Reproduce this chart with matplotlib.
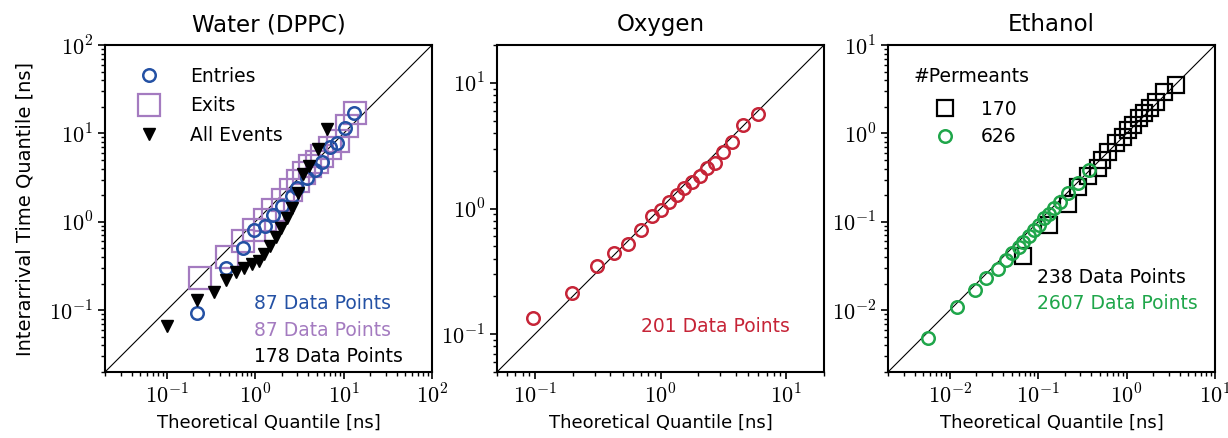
import matplotlib
matplotlib.use("Agg")
import matplotlib.pyplot as plt
from matplotlib.lines import Line2D
from matplotlib.ticker import FuncFormatter, LogLocator
import numpy as np

plt.rcParams['font.family'] = ['DejaVu Sans']
plt.rcParams['mathtext.fontset'] = 'cm'

# ---------------- data ----------------
titles = ["Water (DPPC)", "Oxygen", "Ethanol"]

# Water (DPPC)
water_entries_x = [0.217, 0.466, 0.72, 0.97, 1.29, 1.6, 2.0, 2.58, 2.94, 3.82, 4.74, 5.65, 7.0, 8.4, 10.4, 13.1]
water_entries_y = [0.094, 0.30, 0.50, 0.81, 0.90, 1.2, 1.49, 1.94, 2.41, 3.13, 3.88, 4.8, 7.1, 7.8, 11.5, 17.0]
water_exits_x = [0.237, 0.48, 0.72, 0.97, 1.29, 1.6, 2.04, 2.52, 3.07, 3.56, 4.17, 4.96, 5.65, 7.0, 8.7, 10.8, 13.4]
water_exits_y = [0.23, 0.40, 0.60, 0.80, 1.05, 1.37, 1.77, 2.3, 2.86, 3.56, 4.23, 4.8, 5.5, 6.8, 8.1, 12.0, 17.0]
water_all_x = [0.10, 0.217, 0.34, 0.466, 0.60, 0.75, 0.93, 1.11, 1.26, 1.47, 1.71, 1.95, 2.27, 2.58, 3.02, 3.5, 4.1, 5.2, 6.5]
water_all_y = [0.066, 0.13, 0.16, 0.22, 0.27, 0.30, 0.33, 0.36, 0.43, 0.53, 0.68, 0.85, 1.10, 1.43, 2.11, 3.5, 4.23, 6.65, 11.2]
water_counts = ["87 Data Points", "87 Data Points", "178 Data Points"]

# Oxygen
oxygen_x = [0.096, 0.197, 0.31, 0.43, 0.55, 0.70, 0.85, 1.0, 1.16, 1.36, 1.54, 1.78, 2.05, 2.36, 2.73, 3.15, 3.71, 4.53, 5.96]
oxygen_y = [0.134, 0.214, 0.35, 0.44, 0.52, 0.67, 0.87, 0.98, 1.12, 1.29, 1.46, 1.62, 1.8, 2.1, 2.31, 2.8, 3.36, 4.64, 5.67]
oxygen_count = "201 Data Points"

# Ethanol
eth170_x = [0.0676, 0.133, 0.215, 0.284, 0.368, 0.47, 0.53, 0.61, 0.76, 0.90, 1.03, 1.17, 1.39, 1.59, 1.86, 2.15, 2.68, 3.63]
eth170_y = [0.041, 0.092, 0.161, 0.248, 0.328, 0.41, 0.50, 0.62, 0.77, 0.92, 1.09, 1.24, 1.48, 1.68, 1.92, 2.28, 2.96, 3.52]
eth626_x = [0.0057, 0.0122, 0.0194, 0.026, 0.0347, 0.043, 0.051, 0.060, 0.068, 0.078, 0.090, 0.103, 0.115, 0.133, 0.151, 0.176, 0.215, 0.279, 0.378]
eth626_y = [0.0049, 0.011, 0.0168, 0.0232, 0.0296, 0.0367, 0.0445, 0.052, 0.059, 0.069, 0.080, 0.092, 0.109, 0.124, 0.142, 0.166, 0.21, 0.276, 0.39]
eth_labels = ["170", "626"]
eth_counts = ["238 Data Points", "2607 Data Points"]

limits = [(0.02, 100), (0.05, 20), (0.002, 10)]

# ---------------- style ----------------
BLUE = "#2451a4"
PURPLE = "#a47bc0"
RED = "#c62437"
GREEN = "#1fa64a"


def pow10(v, pos):
    e = int(round(np.log10(v)))
    return r'$10^{%d}$' % e


fig = plt.figure(figsize=(12.28, 4.38), dpi=100)
W, H = 327 / 1228, 327 / 438
bottom = 66 / 438
lefts = [105 / 1228, 497 / 1228, 888 / 1228]
axes = [fig.add_axes([l, bottom, W, H]) for l in lefts]

for ax, t, (lo, hi) in zip(axes, titles, limits):
    ax.set_xscale('log')
    ax.set_yscale('log')
    ax.set_xlim(lo, hi)
    ax.set_ylim(lo, hi)
    for axis in (ax.xaxis, ax.yaxis):
        axis.set_major_locator(LogLocator(base=10, numticks=10))
        axis.set_major_formatter(FuncFormatter(pow10))
    ax.plot([lo, hi], [lo, hi], color='black', lw=0.8, zorder=1)
    ax.set_title(t, fontsize=16.5, pad=10)
    ax.set_xlabel("Theoretical Quantile [ns]", fontsize=13, labelpad=4)
    ax.tick_params(axis='both', which='major', labelsize=16, length=5, width=1.2)
    ax.tick_params(axis='both', which='minor', length=3, width=1.0)
    for s in ax.spines.values():
        s.set_linewidth(1.5)

axes[0].set_ylabel("Interarrival Time Quantile [ns]", fontsize=14, labelpad=11)

# Water
ax = axes[0]
ax.plot(water_exits_x, water_exits_y, 's', ms=16, mfc='none', mec=PURPLE, mew=1.6, zorder=2)
ax.plot(water_entries_x, water_entries_y, 'o', ms=9, mfc='none', mec=BLUE, mew=1.8, zorder=3)
ax.plot(water_all_x, water_all_y, 'v', ms=9, color='black', zorder=4)
handles = [
    Line2D([], [], ls='none', marker='o', ms=9, mfc='none', mec=BLUE, mew=1.8),
    Line2D([], [], ls='none', marker='s', ms=16, mfc='none', mec=PURPLE, mew=1.6),
    Line2D([], [], ls='none', marker='v', ms=9, color='black'),
]
ax.legend(handles, ["Entries", "Exits", "All Events"], loc='upper left', frameon=False,
          fontsize=13.5, handletextpad=1.2, labelspacing=0.55, borderpad=0.5,
          bbox_to_anchor=(0.02, 0.99))
for txt, c, y in zip(water_counts, [BLUE, PURPLE, 'black'], [0.211, 0.128, 0.046]):
    ax.text(0.456, y, txt, color=c, fontsize=13.5, transform=ax.transAxes, va='center', ha='left')

# Oxygen
ax = axes[1]
ax.plot(oxygen_x, oxygen_y, 'o', ms=9, mfc='none', mec=RED, mew=1.8, zorder=3)
ax.text(0.439, 0.138, oxygen_count, color=RED, fontsize=13.5, transform=ax.transAxes, va='center', ha='left')

# Ethanol
ax = axes[2]
ax.plot(eth170_x, eth170_y, 's', ms=11, mfc='none', mec='black', mew=1.6, zorder=2)
ax.plot(eth626_x, eth626_y, 'o', ms=9, mfc='none', mec=GREEN, mew=1.8, zorder=3)
handles = [
    Line2D([], [], ls='none', marker='s', ms=11, mfc='none', mec='black', mew=1.6),
    Line2D([], [], ls='none', marker='o', ms=9, mfc='none', mec=GREEN, mew=1.8),
]
leg = ax.legend(handles, eth_labels, loc='upper left', frameon=False, title="#Permeants",
                fontsize=13.5, title_fontsize=13.5, handletextpad=0.9, labelspacing=0.45,
                borderpad=0.5, bbox_to_anchor=(0.02, 0.99))
leg._legend_box.sep = 10
for txt, c, y in zip(eth_counts, ['black', GREEN], [0.29, 0.211]):
    ax.text(0.456, y, txt, color=c, fontsize=13.5, transform=ax.transAxes, va='center', ha='left')

fig.savefig("out.png", dpi=100)
